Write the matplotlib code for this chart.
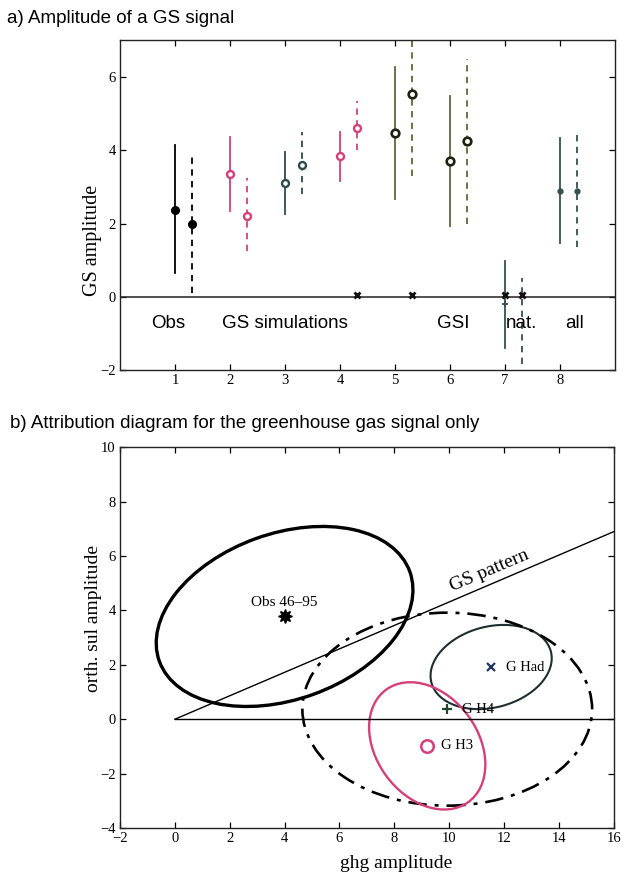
import numpy as np
import matplotlib
matplotlib.use('Agg')
import matplotlib.pyplot as plt
from matplotlib.patches import Ellipse

# ---------------------------------------------------------------
# panel a) data: best guess and 5-95% range of the GS amplitude

pos_a = [1, 1.3, 2, 2.3, 3, 3.3, 4, 4.3, 5, 5.3, 6, 6.3, 7, 7.3, 8, 8.3]
best_a = [2.38, 2.0, 3.35, 2.2, 3.1, 3.6, 3.85, 4.6, 4.47, 5.53, 3.7, 4.25, -0.2, np.nan, 2.89, 2.89]
low_a = [0.65, 0.1, 2.35, 1.25, 2.25, 2.8, 3.15, 4.0, 2.67, 3.3, 1.93, 2.0, -1.39, -1.83, 1.47, 1.36]
high_a = [4.15, 3.9, 4.35, 3.25, 3.95, 4.5, 4.5, 5.35, 6.27, 7.2, 5.48, 6.5, 0.98, 0.52, 4.33, 4.41]
dashed_a = [False, True] * 8

col_obs = 'black'
col_h3 = '#d6407a'
col_had = '#2f4a4a'
col_gsi = '#5f6638'
col_nat = '#35504f'
colors_a = [col_obs, col_obs, col_h3, col_h3, col_had, col_had, col_h3, col_h3,
            col_gsi, col_gsi, col_gsi, col_gsi, col_nat, col_nat, col_nat, col_nat]
markers_a = ['obs', 'obs', 'sim', 'sim', 'sim', 'sim', 'sim', 'sim',
             'gsi', 'gsi', 'gsi', 'gsi', 'plus', 'none', 'dot', 'dot']

# crosses sitting on the zero line
cross_x = [4.3, 5.3, 7, 7.3]
cross_y = [0.05, 0.05, 0.05, 0.05]

group_labels = ['Obs', 'GS simulations', 'GSI', 'nat.', 'all']
group_x = [0.87, 3.0, 6.06, 7.3, 8.27]
group_y = -0.73

# ---------------------------------------------------------------
# panel b) attribution diagram

names_b = ['Obs 46\u201395', 'G Had', 'G H4', 'G H3']
cx_b = [4.0, 11.53, 9.93, 9.2]
cy_b = [3.78, 1.92, 0.37, -0.98]
cov_xx = [21.9, 4.88, 27.9, 4.49]
cov_yy = [10.96, 2.40, 12.6, 5.48]
cov_xy = [4.57, 0.71, 0.0, -1.45]

pattern_x = [0, 16]
pattern_y = [0, 6.9]
zero_x = [0, 16]
zero_y = [0, 0]

# ---------------------------------------------------------------

serif = 'Liberation Serif'
sans = 'Liberation Sans'

fig = plt.figure(figsize=(6.25, 8.77), dpi=100)

# ---------------- panel a
ax = fig.add_axes([0.192, 0.578, 0.792, 0.376])

for i in range(len(pos_a)):
    ls = (0, (3.5, 3)) if dashed_a[i] else '-'
    ax.plot([pos_a[i], pos_a[i]], [low_a[i], high_a[i]], color=colors_a[i],
            linestyle=ls, linewidth=1.3)
    m = markers_a[i]
    if m == 'obs':
        ax.plot(pos_a[i], best_a[i], 'o', color='black', markersize=5.5)
    elif m == 'sim':
        ax.plot(pos_a[i], best_a[i], 'o', markerfacecolor='white',
                markeredgecolor=colors_a[i], markeredgewidth=1.7, markersize=5)
    elif m == 'gsi':
        ax.plot(pos_a[i], best_a[i], 'o', markerfacecolor='white',
                markeredgecolor='#1e2010', markeredgewidth=1.9, markersize=5.5)
    elif m == 'plus':
        ax.plot(pos_a[i], best_a[i], '+', color=colors_a[i], markersize=5, markeredgewidth=1.3)
    elif m == 'dot':
        ax.plot(pos_a[i], best_a[i], 'o', color=colors_a[i], markersize=3.5)

ax.axhline(0, color='#222222', linewidth=1.1)
ax.plot(cross_x, cross_y, 'x', color='#111111', linestyle='none',
        markersize=4.5, markeredgewidth=2)

for lab, gx in zip(group_labels, group_x):
    ax.text(gx, group_y, lab, fontfamily=sans, fontsize=13.5,
            ha='center', va='center')

ax.set_xlim(0, 9)
ax.set_ylim(-2, 7)
ax.set_xticks(range(1, 9))
ax.set_yticks([-2, 0, 2, 4, 6])
ax.set_ylabel('GS amplitude', fontfamily=serif, fontsize=14.5)
ax.yaxis.set_label_coords(-0.036, 0.394)
ax.set_title('a) Amplitude of a GS signal', fontfamily=sans, fontsize=13.5,
             x=-0.228, y=1.027, ha='left')

# ---------------- panel b
bx = fig.add_axes([0.192, 0.0559, 0.790, 0.434])

bx.plot(pattern_x, pattern_y, color='black', linewidth=1.0)
bx.plot(zero_x, zero_y, color='black', linewidth=1.0)
bx.text(11.45, 5.45, 'GS pattern', fontfamily=serif, fontsize=14,
        rotation=23, ha='center', va='center')

ell_style = [dict(color='black', lw=2.4, ls='-'),
             dict(color='#1c2e2e', lw=1.5, ls='-'),
             dict(color='black', lw=1.9, ls=(0, (7, 3, 1.5, 3))),
             dict(color=col_h3, lw=1.7, ls='-')]

for i in range(len(names_b)):
    S = np.array([[cov_xx[i], cov_xy[i]], [cov_xy[i], cov_yy[i]]])
    vals, vecs = np.linalg.eigh(S)
    ang = np.degrees(np.arctan2(vecs[1, 1], vecs[0, 1]))
    e = Ellipse((cx_b[i], cy_b[i]), 2 * np.sqrt(vals[1]), 2 * np.sqrt(vals[0]),
                angle=ang, fill=False, edgecolor=ell_style[i]['color'],
                linewidth=ell_style[i]['lw'], linestyle=ell_style[i]['ls'])
    bx.add_patch(e)

bx.plot(cx_b[0], cy_b[0], marker=(8, 1, 0), color='black', markersize=10)
bx.text(cx_b[0], cy_b[0] + 0.5, names_b[0], fontfamily=serif, fontsize=11,
        ha='center', va='center')
bx.plot(cx_b[1], cy_b[1], 'x', color='#1f3560', markersize=6, markeredgewidth=1.6)
bx.text(cx_b[1] + 0.55, cy_b[1], names_b[1], fontfamily=serif, fontsize=10.5,
        ha='left', va='center')
bx.plot(cx_b[2], cy_b[2], '+', color='#1e4a28', markersize=7, markeredgewidth=1.6)
bx.text(cx_b[2] + 0.55, cy_b[2], names_b[2], fontfamily=serif, fontsize=10.5,
        ha='left', va='center')
bx.plot(cx_b[3], cy_b[3], 'o', markerfacecolor='white', markeredgecolor=col_h3,
        markeredgewidth=1.8, markersize=9)
bx.text(cx_b[3] + 0.5, cy_b[3], names_b[3], fontfamily=serif, fontsize=10.5,
        ha='left', va='center')

bx.set_xlim(-2, 16)
bx.set_ylim(-4, 10)
bx.set_xticks(range(-2, 17, 2))
bx.set_yticks(range(-4, 11, 2))
bx.set_xlabel('ghg amplitude', fontfamily=serif, fontsize=14)
bx.xaxis.set_label_coords(0.56, -0.07)
bx.set_ylabel('orth. sul amplitude', fontfamily=serif, fontsize=14)
bx.yaxis.set_label_coords(-0.036, 0.55)
bx.set_title('b) Attribution diagram for the greenhouse gas signal only',
             fontfamily=sans, fontsize=13.5, x=-0.223, y=1.028, ha='left')

for a in (ax, bx):
    a.tick_params(direction='in', top=True, right=True, length=4, width=0.9,
                  pad=3, labelsize=10.5)
    for s in a.spines.values():
        s.set_linewidth(1.0)
        s.set_color('#222222')

ax.set_xticklabels([str(v) for v in range(1, 9)], fontfamily=serif)
ax.set_yticklabels(['\u22122', '0', '2', '4', '6'], fontfamily=serif)
bx.set_yticklabels(['\u22124', '\u22122', '0', '2', '4', '6', '8', '10'], fontfamily=serif)
bx.set_xticklabels(['\u22122', '0', '2', '4', '6', '8', '10', '12', '14', '16'], fontfamily=serif)

fig.savefig('out.png', dpi=100)
